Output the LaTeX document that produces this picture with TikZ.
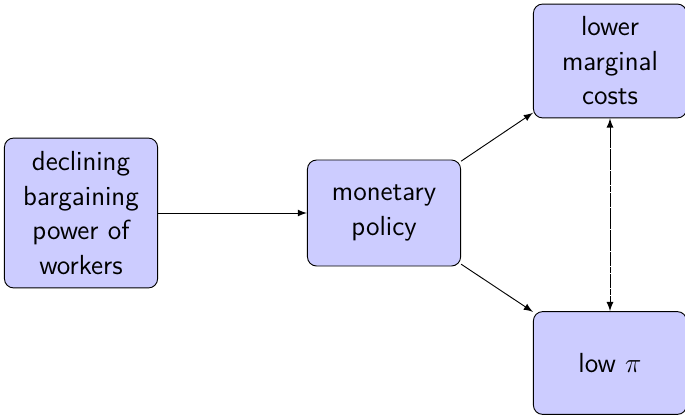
\documentclass[tikz,border=0pt]{standalone}
\usetikzlibrary{positioning,arrows}

\begin{document}
\begin{tikzpicture}[
		block/.style={
			draw,
			fill=blue!20,
			rounded corners,
			align=center,
			text width=2.2cm,
			inner sep=2pt,
			font=\sffamily\fontsize{12}{15}\selectfont
		},
		>=latex
		]
		\useasboundingbox (0,0) rectangle (10.467,6.372);
		% Blocks
		\node[block,minimum width=2.32cm,minimum height=2.29cm] (workers) at (1.238,3.117)
			{declining\\bargaining\\power of\\workers};
		\node[block,minimum width=2.32cm,minimum height=1.62cm] (policy) at (5.868,3.117)
			{monetary\\policy};
		\node[block,minimum width=2.29cm,minimum height=1.74cm] (costs) at (9.321,5.440)
			{lower\\marginal\\costs};
		\node[block,minimum width=2.29cm,minimum height=1.57cm] (pi) at (9.321,0.825)
			{low $\pi$};
		% Arrows
		\draw[->] (workers) -- (policy);
		\draw[->] (policy) -- (costs);
		\draw[->] (policy) -- (pi);
		\draw[<->,dash pattern=on 3pt off 0.2pt] (costs) -- (pi);
\end{tikzpicture}
\end{document}
